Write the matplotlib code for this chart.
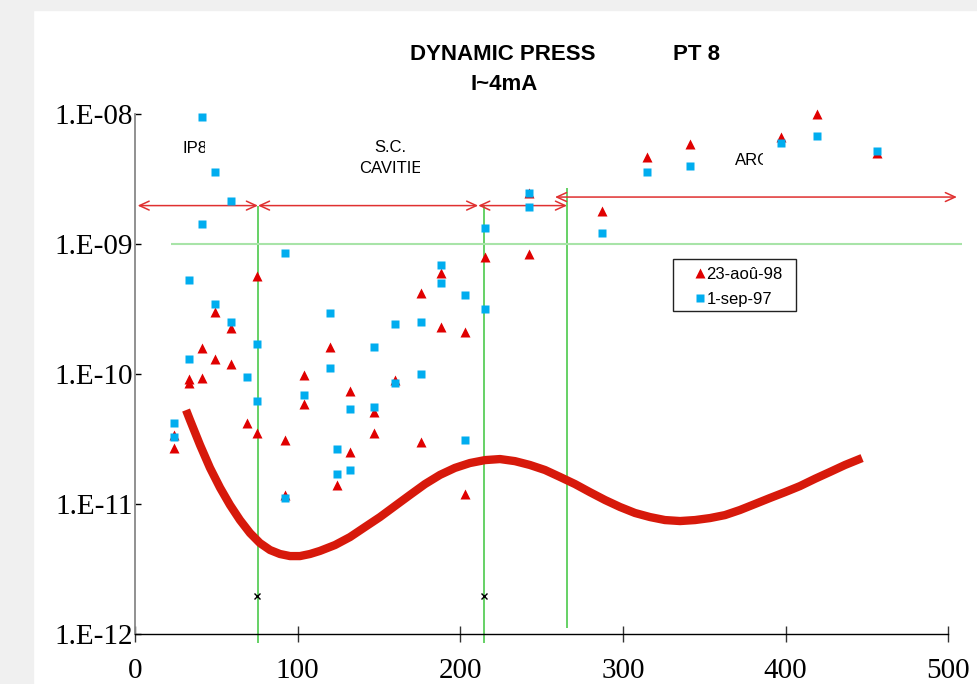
import matplotlib
matplotlib.use("Agg")
import matplotlib.pyplot as plt
from matplotlib.patches import Rectangle, FancyArrowPatch, ArrowStyle
from matplotlib.lines import Line2D
from matplotlib.transforms import Bbox

# measured pressures along the straight section, position in m
x_98 = [24, 24, 33, 33, 41, 41, 49, 49, 59, 59, 69, 75, 75, 92, 92, 104, 104,
        120, 124, 132, 132, 147, 147, 160, 176, 176, 188, 188, 203, 203, 215,
        242, 242, 287, 315, 341, 397, 419, 456]
p_98 = [3.4e-11, 2.7e-11, 9.1e-11, 8.5e-11, 1.59e-10, 9.2e-11, 3.0e-10, 1.29e-10,
        2.26e-10, 1.19e-10, 4.2e-11, 5.6e-10, 3.5e-11, 3.1e-11, 1.17e-11, 9.8e-11,
        5.9e-11, 1.6e-10, 1.4e-11, 7.4e-11, 2.5e-11, 5.1e-11, 3.5e-11, 9.0e-11,
        4.15e-10, 3.0e-11, 5.9e-10, 2.3e-10, 2.08e-10, 1.19e-11, 7.85e-10,
        2.45e-9, 8.3e-10, 1.78e-9, 4.63e-9, 5.8e-9, 6.6e-9, 1.0e-8, 5.0e-9]

x_97 = [24, 24, 33, 33, 41, 41, 49, 49, 59, 59, 69, 75, 75, 92, 92, 104,
        120, 120, 124, 124, 132, 132, 147, 147, 160, 160, 176, 176, 188, 188,
        203, 203, 215, 215, 242, 242, 287, 315, 341, 397, 419, 456]
p_97 = [4.16e-11, 3.28e-11, 5.25e-10, 1.30e-10, 9.4e-9, 1.42e-9, 3.55e-9, 3.44e-10,
        2.13e-9, 2.50e-10, 9.5e-11, 1.69e-10, 6.2e-11, 8.4e-10, 1.11e-11, 6.9e-11,
        2.91e-10, 1.10e-10, 2.62e-11, 1.70e-11, 5.4e-11, 1.82e-11, 1.60e-10, 5.6e-11,
        2.41e-10, 8.45e-11, 2.51e-10, 9.96e-11, 6.9e-10, 5.0e-10, 4.0e-10, 3.1e-11,
        1.31e-9, 3.13e-10, 2.45e-9, 1.91e-9, 1.21e-9, 3.55e-9, 3.95e-9, 5.9e-9,
        6.7e-9, 5.15e-9]

# calculated profile
x_calc = [31.4, 33.8, 40.0, 46.1, 52.3, 58.4, 64.5, 70.7, 76.8, 83.0, 89.1, 95.3,
          101.4, 107.6, 113.7, 123.0, 132.2, 141.4, 150.6, 159.8, 169.0, 178.3,
          187.5, 196.7, 205.9, 215.2, 224.4, 233.6, 242.8, 252.1, 261.3, 270.5,
          279.7, 289.0, 298.2, 307.4, 316.6, 325.8, 335.1, 344.3, 353.5, 362.7,
          371.9, 381.2, 390.4, 399.6, 408.8, 418.1, 427.3, 436.5, 447.0]
p_calc = [5.26e-11, 4.41e-11, 2.83e-11, 1.89e-11, 1.33e-11, 9.81e-12, 7.52e-12,
          5.97e-12, 5.00e-12, 4.42e-12, 4.12e-12, 3.97e-12, 3.97e-12, 4.12e-12,
          4.35e-12, 4.83e-12, 5.56e-12, 6.64e-12, 7.92e-12, 9.63e-12, 1.17e-11,
          1.42e-11, 1.67e-11, 1.89e-11, 2.06e-11, 2.17e-11, 2.21e-11, 2.13e-11,
          1.99e-11, 1.82e-11, 1.61e-11, 1.42e-11, 1.23e-11, 1.07e-11, 9.46e-12,
          8.51e-12, 7.92e-12, 7.51e-12, 7.38e-12, 7.51e-12, 7.78e-12, 8.20e-12,
          8.97e-12, 9.98e-12, 1.11e-11, 1.23e-11, 1.37e-11, 1.56e-11, 1.76e-11,
          1.99e-11, 2.25e-11]

# region arrows (IP8, S.C. cavities, transition, arc)
arrow_x0 = [1.6, 75.6, 211.0, 258.2]
arrow_x1 = [75.6, 211.0, 265.6, 505.3]
arrow_y = [1.96e-9, 1.96e-9, 1.96e-9, 2.28e-9]

# region boundaries
bound_x = [75.6, 214.6, 265.7]
bound_top = [1.96e-9, 1.96e-9, 2.68e-9]
bound_bot = [8.5e-13, 8.5e-13, 1.11e-12]

# pump positions
pump_x = [75, 214.7]
pump_y = [1.97e-12, 1.97e-12]

xticks = [0, 100, 200, 300, 400, 500]
yticks = [1e-12, 1e-11, 1e-10, 1e-9, 1e-8]
ylabels = ["1.E-12", "1.E-11", "1.E-10", "1.E-09", "1.E-08"]

RED = "#e00000"
BLUE = "#00adef"
W, H = 978, 684

fig = plt.figure(figsize=(W / 100, H / 100), dpi=100)
fig.patches.append(Rectangle((0, 0), 33 / W, 1, transform=fig.transFigure,
                             color="#f0f0f0", zorder=-1))
fig.patches.append(Rectangle((0, 1 - 10 / H), 1, 10 / H, transform=fig.transFigure,
                             color="#f0f0f0", zorder=-1))

ax = fig.add_axes([135 / W, 1 - 634 / H, (948.3 - 135) / W, (634 - 113.5) / H])
ax.set_yscale("log")
ax.set_xlim(0, 500)
ax.set_ylim(1e-12, 1e-8)

for s in ["top", "right"]:
    ax.spines[s].set_visible(False)
ax.spines["left"].set_color("#888888")
ax.spines["left"].set_linewidth(1.3)
ax.spines["bottom"].set_color("black")
ax.spines["bottom"].set_linewidth(1.0)

ax.set_xticks(xticks)
ax.set_xticklabels([str(v) for v in xticks], family="Liberation Serif", fontsize=21)
ax.set_yticks(yticks)
ax.set_yticklabels(ylabels, family="Liberation Serif", fontsize=21)
ax.yaxis.set_minor_locator(matplotlib.ticker.NullLocator())
ax.tick_params(axis="x", direction="inout", length=11, width=1, color="#333333", pad=12)
ax.tick_params(axis="y", direction="in", length=4.5, width=1, color="black", pad=1.5)

# calculated curve
ax.plot(x_calc, p_calc, color="#d7190b", lw=6, solid_capstyle="butt",
        solid_joinstyle="round", zorder=3)

# boundaries and reference level
ax.vlines(bound_x, bound_bot, bound_top, color="#4cc94c", lw=1.2, clip_on=False, zorder=2)
ax.hlines(1e-9, 22, 508.6, color="#a8e4a8", lw=1.5, clip_on=False, zorder=2)

for x0, x1, y in zip(arrow_x0, arrow_x1, arrow_y):
    arr = FancyArrowPatch((x0, y), (x1, y),
                          arrowstyle=ArrowStyle("<->", head_length=7, head_width=3.2),
                          mutation_scale=1, color="#e03030", lw=1.1,
                          shrinkA=0, shrinkB=0, clip_on=False, zorder=2)
    ax.add_patch(arr)

ax.plot(pump_x, pump_y, ls="none", marker="x", ms=5, mew=1, color="black", zorder=4)

# measurements
ax.plot(x_98, p_98, ls="none", marker="^", ms=7.5, color=RED, mec="none",
        clip_on=False, zorder=4)
ax.plot(x_97, p_97, ls="none", marker="s", ms=6.3, color=BLUE, mec="none",
        clip_on=False, zorder=5)

# legend with a fixed box
ax.add_patch(Rectangle((0.6615, 0.6205), 0.1512, 0.1, transform=ax.transAxes,
                       fc="white", ec="#222222", lw=1, zorder=6, clip_on=False))
h98 = Line2D([], [], ls="none", marker="^", ms=7.5, color=RED, mec="none")
h97 = Line2D([], [], ls="none", marker="s", ms=6.3, color=BLUE, mec="none")
leg = ax.legend([h98, h97], ["23-aoû-98", "1-sep-97"], loc="upper left",
                bbox_to_anchor=(0.6861, 0.7051), frameon=False, borderpad=0,
                borderaxespad=0, handlelength=0.8, handletextpad=0.0,
                labelspacing=0.62, prop={"family": "Liberation Sans", "size": 12})
leg.set_zorder(7)


def ftext(px, py, s, clip_right=None, **kw):
    t = fig.text(px / W, 1 - py / H, s, family="Liberation Sans", va="baseline", **kw)
    if clip_right is not None:
        t.set_clip_on(True)
        t.set_clip_box(Bbox.from_extents(0, 0, clip_right, H))
    return t


ftext(410, 59.5, "DYNAMIC PRESS", clip_right=596, fontsize=16, fontweight="bold")
ftext(673, 59.5, "PT 8", fontsize=16, fontweight="bold")
ftext(504, 90, "I~4mA", fontsize=16, fontweight="bold", ha="center")
ftext(183, 153, "IP8", clip_right=205, fontsize=12)
ftext(390, 152, "S.C.", fontsize=12, ha="center")
ftext(359, 173, "CAVITIES", clip_right=419.5, fontsize=12)
ftext(735, 165, "ARC", clip_right=763, fontsize=12)

fig.savefig("out.png", dpi=100)
